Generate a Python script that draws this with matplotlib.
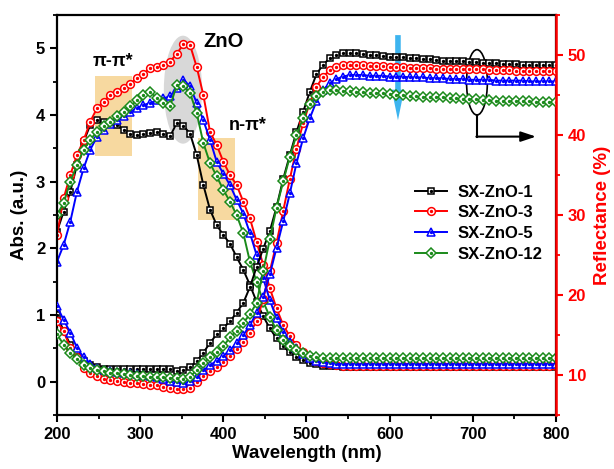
import numpy as np
import matplotlib
matplotlib.use("Agg")
from matplotlib import pyplot as plt
from matplotlib.patches import Ellipse, Rectangle, FancyArrowPatch
from matplotlib.ticker import MultipleLocator

wavelength = np.arange(200, 801, 8)
labels = ["SX-ZnO-1", "SX-ZnO-3", "SX-ZnO-5", "SX-ZnO-12"]

# absorbance (left axis)
abs_1 = [2.25, 2.55, 2.85, 3.25, 3.60, 3.85, 3.93, 3.90, 3.87, 3.85,
         3.78, 3.72, 3.70, 3.72, 3.73, 3.74, 3.72, 3.68, 3.88, 3.84,
         3.72, 3.40, 2.95, 2.58, 2.35, 2.20, 2.07, 1.87, 1.68, 1.45,
         1.20, 0.98, 0.80, 0.65, 0.53, 0.44, 0.37, 0.32, 0.28, 0.26,
         0.24, 0.23, 0.23, 0.22, 0.22, 0.22, 0.22, 0.22, 0.22, 0.22,
         0.22, 0.22, 0.22, 0.22, 0.22, 0.22, 0.22, 0.22, 0.22, 0.22,
         0.22, 0.22, 0.22, 0.22, 0.22, 0.22, 0.22, 0.22, 0.22, 0.22,
         0.22, 0.22, 0.22, 0.22, 0.22, 0.22]
abs_3 = [2.20, 2.75, 3.10, 3.40, 3.62, 3.90, 4.10, 4.20, 4.30, 4.35,
         4.40, 4.47, 4.55, 4.62, 4.70, 4.72, 4.75, 4.80, 4.92, 5.06,
         5.05, 4.72, 4.30, 3.75, 3.55, 3.30, 3.10, 2.95, 2.70, 2.45,
         2.10, 1.75, 1.40, 1.10, 0.85, 0.68, 0.55, 0.45, 0.37, 0.31,
         0.28, 0.26, 0.25, 0.24, 0.23, 0.23, 0.23, 0.23, 0.23, 0.23,
         0.23, 0.23, 0.23, 0.23, 0.23, 0.23, 0.23, 0.23, 0.23, 0.23,
         0.23, 0.23, 0.23, 0.23, 0.23, 0.23, 0.23, 0.23, 0.23, 0.23,
         0.23, 0.23, 0.23, 0.23, 0.23, 0.23]
abs_5 = [1.80, 2.05, 2.40, 2.85, 3.20, 3.48, 3.67, 3.78, 3.86, 3.93,
         3.98, 4.05, 4.10, 4.15, 4.18, 4.22, 4.25, 4.28, 4.40, 4.53,
         4.43, 4.18, 3.92, 3.63, 3.30, 3.12, 2.95, 2.73, 2.52, 2.23,
         1.90, 1.55, 1.22, 0.95, 0.75, 0.60, 0.50, 0.42, 0.36, 0.31,
         0.29, 0.28, 0.27, 0.26, 0.26, 0.26, 0.26, 0.26, 0.26, 0.26,
         0.26, 0.26, 0.26, 0.26, 0.26, 0.26, 0.26, 0.26, 0.26, 0.26,
         0.26, 0.26, 0.26, 0.26, 0.26, 0.26, 0.26, 0.26, 0.26, 0.26,
         0.26, 0.26, 0.26, 0.26, 0.26, 0.26]
abs_12 = [2.50, 2.68, 3.00, 3.25, 3.48, 3.63, 3.75, 3.83, 3.90, 3.98,
          4.05, 4.13, 4.22, 4.30, 4.35, 4.25, 4.18, 4.13, 4.45, 4.43,
          4.33, 4.03, 3.58, 3.28, 3.08, 2.88, 2.70, 2.50, 2.23, 1.80,
          1.50, 1.20, 0.97, 0.77, 0.62, 0.54, 0.48, 0.43, 0.39, 0.37,
          0.36, 0.36, 0.36, 0.36, 0.36, 0.36, 0.36, 0.36, 0.36, 0.36,
          0.36, 0.36, 0.36, 0.36, 0.36, 0.36, 0.36, 0.36, 0.36, 0.36,
          0.36, 0.36, 0.36, 0.36, 0.36, 0.36, 0.36, 0.36, 0.36, 0.36,
          0.36, 0.36, 0.36, 0.36, 0.36, 0.36]

# reflectance (right axis, %)
refl_1 = [17.5, 15.5, 13.8, 12.6, 11.8, 11.3, 11.0, 10.8, 10.7, 10.7,
          10.7, 10.8, 10.8, 10.8, 10.8, 10.8, 10.8, 10.8, 10.5, 10.6,
          11.0, 11.7, 12.8, 14.0, 15.1, 15.9, 16.7, 17.8, 19.0, 21.0,
          23.5, 25.8, 28.0, 31.0, 34.5, 37.5, 40.4, 42.9, 45.4, 47.6,
          48.8, 49.6, 50.0, 50.2, 50.2, 50.2, 50.1, 50.0, 50.0, 49.9,
          49.8, 49.8, 49.7, 49.6, 49.6, 49.5, 49.5, 49.4, 49.3, 49.3,
          49.2, 49.2, 49.1, 49.1, 49.0, 49.0, 49.0, 48.9, 48.9, 48.9,
          48.8, 48.8, 48.8, 48.7, 48.7, 48.7]
refl_3 = [16.7, 15.5, 13.4, 12.2, 10.9, 10.3, 9.9, 9.5, 9.35, 9.25,
          9.15, 9.05, 9.0, 8.9, 8.8, 8.7, 8.5, 8.4, 8.25, 8.2,
          8.4, 9.1, 9.9, 10.5, 11.0, 11.6, 12.4, 13.2, 14.1, 15.3,
          16.7, 19.5, 23.0, 26.5, 30.5, 34.5, 38.3, 41.5, 44.0, 46.0,
          47.3, 48.1, 48.5, 48.7, 48.7, 48.7, 48.7, 48.6, 48.6, 48.6,
          48.5, 48.5, 48.5, 48.4, 48.4, 48.4, 48.4, 48.3, 48.3, 48.3,
          48.3, 48.2, 48.2, 48.2, 48.2, 48.1, 48.1, 48.1, 48.1, 48.0,
          48.0, 48.0, 48.0, 48.0, 48.0, 48.0]
refl_5 = [18.6, 16.9, 15.3, 13.4, 12.2, 11.4, 10.9, 10.6, 10.5, 10.4,
          10.3, 10.2, 10.1, 10.0, 9.9, 9.7, 9.5, 9.3, 9.1, 9.0,
          9.2, 9.8, 10.6, 11.2, 11.8, 12.4, 13.1, 14.0, 15.0, 16.2,
          17.8, 19.8, 22.6, 25.9, 29.2, 32.7, 36.5, 39.6, 42.1, 44.2,
          45.6, 46.5, 47.0, 47.3, 47.5, 47.5, 47.5, 47.4, 47.4, 47.4,
          47.3, 47.3, 47.3, 47.2, 47.2, 47.2, 47.1, 47.1, 47.1, 47.0,
          47.0, 47.0, 46.9, 46.9, 46.9, 46.9, 46.8, 46.8, 46.8, 46.8,
          46.8, 46.7, 46.7, 46.7, 46.7, 46.7]
refl_12 = [15.1, 13.8, 12.8, 12.0, 11.3, 10.9, 10.6, 10.5, 10.3, 10.2,
           10.1, 10.0, 9.9, 9.85, 9.8, 9.75, 9.7, 9.65, 9.6, 9.5,
           9.8, 10.6, 11.5, 12.2, 12.9, 13.6, 14.7, 15.5, 16.5, 17.6,
           19.0, 23.0, 27.0, 30.9, 34.2, 37.3, 40.0, 42.1, 43.9, 44.9,
           45.4, 45.6, 45.6, 45.5, 45.5, 45.4, 45.4, 45.3, 45.2, 45.2,
           45.1, 45.0, 45.0, 44.9, 44.9, 44.8, 44.8, 44.7, 44.7, 44.6,
           44.6, 44.5, 44.5, 44.5, 44.4, 44.4, 44.3, 44.3, 44.3, 44.2,
           44.2, 44.2, 44.1, 44.1, 44.1, 44.1]

colors = ["black", "#ff0000", "#0000ff", "#1a8a1a"]
markers = ["s", "o", "^", "D"]
marker_sizes = [5.0, 5.6, 5.8, 4.6]


def _plot_series(ax, x, y, color, marker, size):
    line, = ax.plot(x, y, color=color, lw=1.4, marker=marker, ms=size,
                    mfc="white", mec=color, mew=1.1)
    dot, = ax.plot(x, y, ls="none", marker="o", ms=1.4, color=color)
    return line, dot


def main():
    plt.rcParams["font.family"] = ["Liberation Sans", "DejaVu Sans"]
    plt.rcParams["font.weight"] = "bold"
    plt.rcParams["axes.labelweight"] = "bold"

    fig = plt.figure(figsize=(6.14, 4.69), dpi=100)
    fig.subplots_adjust(left=0.0928, right=0.9055, bottom=0.1151, top=0.968)
    ax = fig.add_subplot(1, 1, 1)
    ax2 = ax.twinx()

    # highlight shapes behind the curves
    ax.add_patch(Rectangle((246, 3.38), 44, 1.2, color="#f7d9a0", lw=0, zorder=0))
    ax.add_patch(Rectangle((369.5, 2.42), 44.5, 1.24, color="#f7d9a0", lw=0, zorder=0))
    ax.add_patch(Ellipse((351.5, 4.38), 46, 1.62, color="#d8d8d8", lw=0, zorder=0))

    handles = []
    for y, c, m, s in zip([abs_1, abs_3, abs_5, abs_12], colors, markers, marker_sizes):
        _plot_series(ax, wavelength, y, c, m, s)
    for y, c, m, s in zip([refl_1, refl_3, refl_5, refl_12], colors, markers, marker_sizes):
        handles.append(_plot_series(ax2, wavelength, y, c, m, s))

    ax.set_xlim(200, 800)
    ax.set_ylim(-0.5, 5.5)
    ax2.set_ylim(5, 55)
    ax.xaxis.set_major_locator(MultipleLocator(100))
    ax.xaxis.set_minor_locator(MultipleLocator(50))
    ax.yaxis.set_major_locator(MultipleLocator(1))
    ax.yaxis.set_minor_locator(MultipleLocator(0.5))
    ax2.yaxis.set_major_locator(MultipleLocator(10))
    ax2.yaxis.set_minor_locator(MultipleLocator(5))

    for sp in ax.spines.values():
        sp.set_linewidth(1.6)
    for name in ["left", "top", "bottom"]:
        ax2.spines[name].set_visible(False)
    ax2.spines["right"].set_color("red")
    ax2.spines["right"].set_linewidth(1.8)

    ax.tick_params(which="major", length=5, width=1.5, labelsize=12)
    ax.tick_params(which="minor", length=3, width=1.3)
    ax.tick_params(axis="y", right=False, which="both")
    ax2.tick_params(which="major", length=5, width=1.5, labelsize=12, colors="red")
    ax2.tick_params(which="minor", length=3, width=1.3, colors="red")

    ax.set_xlabel("Wavelength (nm)", fontsize=13.5, labelpad=2)
    ax.set_ylabel("Abs. (a.u.)", fontsize=13.5, labelpad=6)
    ax2.set_ylabel("Reflectance (%)", fontsize=13.5, color="red", labelpad=6)

    # annotations
    ax.text(267, 4.8, "\u03c0-\u03c0*", fontsize=13, ha="center", va="center")
    ax.text(429, 3.85, "n-\u03c0*", fontsize=13, ha="center", va="center")
    ax.text(400, 5.1, "ZnO", fontsize=14.5, ha="center", va="center")

    ax.add_patch(FancyArrowPatch((610, 5.24), (610, 3.88),
                                 arrowstyle="simple,head_length=22,head_width=9,tail_width=4",
                                 mutation_scale=1, color="#3db4ef", lw=0, zorder=5))

    ax.add_patch(Ellipse((705, 4.49), 25, 0.98, fill=False, ec="black", lw=1.2, zorder=5))
    ax.plot([705, 705], [4.0, 3.676], color="black", lw=1.5, zorder=5)
    ax.annotate("", xy=(776, 3.676), xytext=(704.3, 3.676),
                arrowprops=dict(arrowstyle="-|>,head_length=0.9,head_width=0.3",
                                color="black", lw=1.5, shrinkA=0, shrinkB=0), zorder=5)

    ax2.legend(handles, labels, loc="center left", bbox_to_anchor=(0.705, 0.48),
               frameon=False, fontsize=12, handlelength=1.9, handletextpad=0.6,
               labelspacing=0.34, borderaxespad=0)

    fig.savefig("out.png", dpi=100)


if __name__ == "__main__":
    main()
